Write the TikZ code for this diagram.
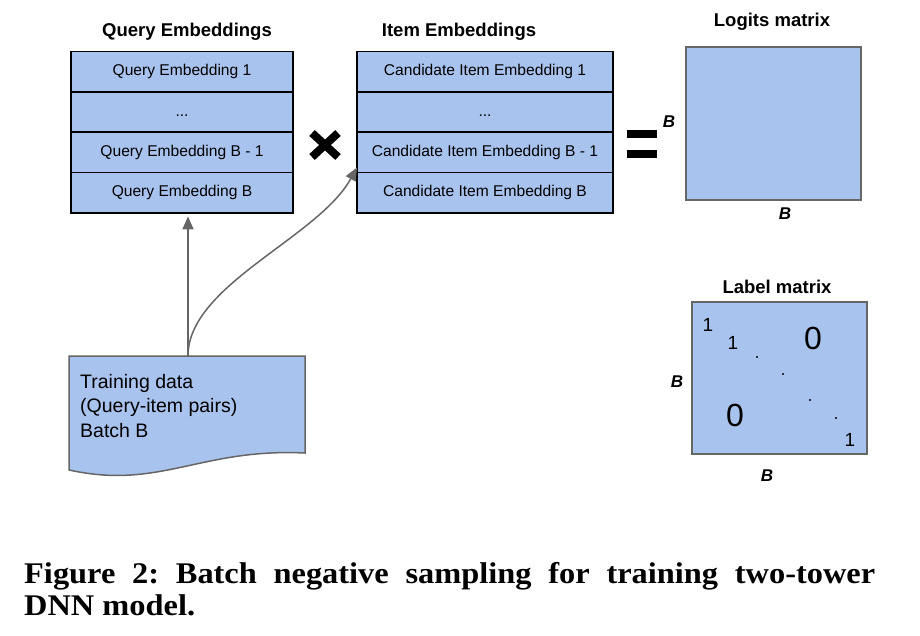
\documentclass[tikz,border=0pt]{standalone}
\usepackage{fontspec}
\setmainfont{Liberation Sans}
\newfontfamily\capfont[FakeStretch=1.08]{Liberation Serif}
\usetikzlibrary{arrows.meta}
\definecolor{cellblue}{HTML}{A9C3EF}
\definecolor{linegray}{HTML}{666666}

\begin{document}
\begin{tikzpicture}[x=1pt,y=-1pt,
  cell/.style={draw=black, line width=1.6pt, fill=cellblue, inner sep=0pt,
    minimum height=40.4pt, text height=11.2pt, text depth=3pt,
    font=\fontsize{15.6}{18}\selectfont},
  qcell/.style={cell, minimum width=222pt},
  icell/.style={cell, minimum width=256pt},
  heading/.style={font=\fontsize{18.5}{22}\bfseries\selectfont, inner sep=0pt},
  dimlabel/.style={font=\fontsize{17}{20}\bfseries\itshape\selectfont, inner sep=0pt},
  matbox/.style={draw=linegray, line width=1.6pt, fill=cellblue},
  feed/.style={draw=linegray, line width=1.5pt,
    -{Triangle[length=13pt,width=11pt,line join=miter]}},
  entry/.style={inner sep=0pt, font=\fontsize{19}{22}\selectfont},
  bigentry/.style={inner sep=0pt, font=\fontsize{32}{36}\selectfont},
  dotmark/.style={fill=black, circle, inner sep=0pt, minimum size=2.2pt},
  opmark/.style={line width=8pt, black},
  caption/.style={anchor=base west, inner sep=0pt,
    font=\capfont\bfseries\fontsize{30}{32}\selectfont\frenchspacing}
]
\useasboundingbox (0,0) rectangle (920,636);

% query tower
\node[heading] (qtitle) at (187,32) {Query Embeddings};
\node[qcell] (q1) at (182,71.7) {Query Embedding 1};
\node[qcell] (q2) at (182,112.1) {...};
\node[qcell] (q3) at (182,152.5) {Query Embedding B - 1};
\node[qcell] (q4) at (182,192.9) {Query Embedding B};

% item tower
\node[heading] (ititle) at (459,32) {Item Embeddings};
\node[icell] (i1) at (485,71.7) {Candidate Item Embedding 1};
\node[icell] (i2) at (485,112.1) {...};
\node[icell] (i3) at (485,152.5) {Candidate Item Embedding B - 1};
\node[icell] (i4) at (485,192.9) {Candidate Item Embedding B};

% multiplication sign
\draw[opmark] (312,133) -- (338,157);
\draw[opmark] (312,157) -- (338,133);

% equals sign
\draw[opmark] (627,134.5) -- (657,134.5);
\draw[opmark] (627,154.5) -- (657,154.5);

% logits matrix
\node[heading] (ltitle) at (772,22) {Logits matrix};
\node[matbox, minimum width=175pt, minimum height=153pt, inner sep=0pt] (logits) at (773.5,123.5) {};
\node[dimlabel] (lrow) at (669,122) {B};
\node[dimlabel] (lcol) at (785,214) {B};

% label matrix
\node[heading] (mtitle) at (777,287) {Label matrix};
\node[matbox, minimum width=175pt, minimum height=152pt, inner sep=0pt] (labels) at (779.5,378) {};
\node[dimlabel] (mrow) at (677,382) {B};
\node[dimlabel] (mcol) at (767,476) {B};
\node[entry] (d1) at (708,325) {1};
\node[entry] (d2) at (733,343) {1};
\node[dotmark] (e1) at (757,357) {};
\node[dotmark] (e2) at (783,374) {};
\node[dotmark] (e3) at (810,400) {};
\node[dotmark] (e4) at (836,418) {};
\node[entry] (d3) at (850,440) {1};
\node[bigentry] (zup) at (813,338) {0};
\node[bigentry] (zlo) at (735,415) {0};

% training data document
\path[fill=cellblue, draw=linegray, line width=1.5pt]
  (69,356) -- (305,356) -- (305,453)
  .. controls (200,448) and (160,490) .. (69,470) -- cycle;
\node[anchor=north west, align=left, inner sep=0pt,
  font=\fontsize{19.5}{24.5}\selectfont] (train) at (80,374)
  {Training data\\(Query-item pairs)\\Batch B};
\coordinate (trainTop) at (188,356);
\coordinate (itemIn) at (357,167.5);

% feeds into both towers
\draw[feed, shorten >=2.5pt] (trainTop) -- (trainTop |- q4.south);
\draw[feed] (trainTop) .. controls (188,285) and (318,238) .. (itemIn);

% caption
\node[caption] (cap1) at (24,583)
  {\makebox[851pt][s]{Figure 2: Batch negative sampling for training two-tower}};
\node[caption] (cap2) at (24,615) {DNN model.};
\end{tikzpicture}
\end{document}
